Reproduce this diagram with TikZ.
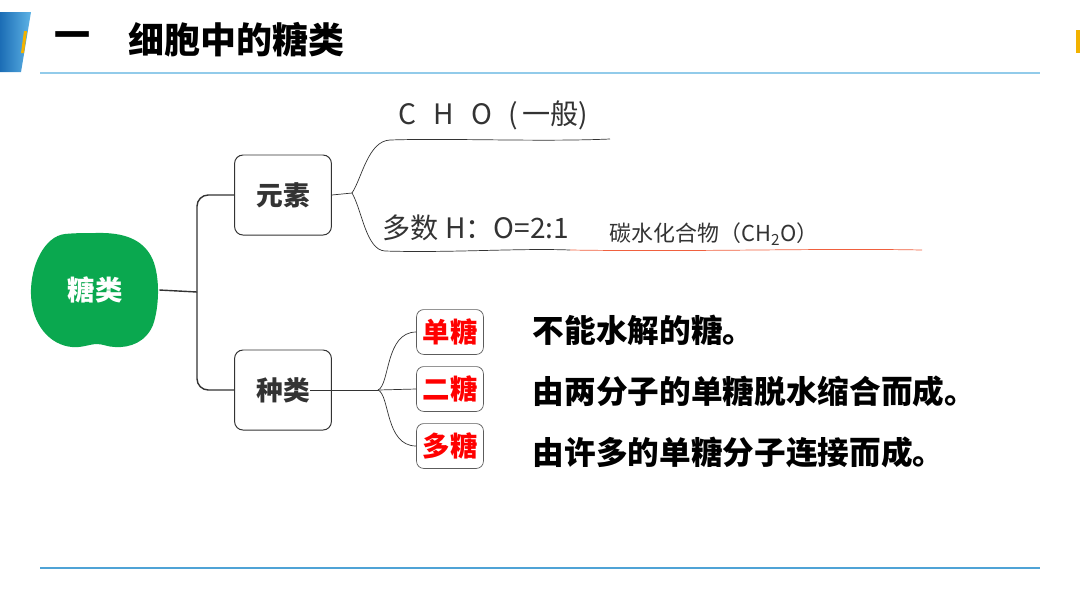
\documentclass[tikz,border=0pt]{standalone}
\usepackage{fontspec}
\setmainfont{Noto Sans CJK SC}
\usepackage{tikz}

\definecolor{leafgreen}{HTML}{0AA84F}
\definecolor{inkgray}{HTML}{333333}
\definecolor{rulelight}{HTML}{92CBEA}
\definecolor{ruleblue}{HTML}{4FA3D6}
\definecolor{tabdark}{HTML}{1C6DB5}
\definecolor{tablight}{HTML}{5DB3E6}
\definecolor{tabyellow}{HTML}{F2B200}
\definecolor{penred}{HTML}{F0603E}

\begin{document}
\begin{tikzpicture}[x=0.025cm,y=-0.025cm,
  part/.style={draw=inkgray, line width=0.7pt, rounded corners=6pt,
    minimum width=2.42cm, minimum height=2cm, text=inkgray,
    font=\fontsize{19}{20}\selectfont\bfseries},
  kind/.style={draw=inkgray!80, line width=0.5pt, rounded corners=5pt,
    minimum width=1.67cm, minimum height=1.12cm, text=red,
    font=\fontsize{19.5}{20}\selectfont\bfseries},
  desc/.style={anchor=west, font=\fontsize{22.5}{24}\selectfont\bfseries},
  note/.style={text=inkgray, font=\fontsize{20}{22}\selectfont},
  wire/.style={draw=inkgray, line width=0.5pt}
]
\useasboundingbox (0,0) rectangle (1080,608);

% header
\shade[left color=tabdark, right color=tablight] (0,12) -- (31,12) -- (21,72) -- (0,72) -- cycle;
\fill[tabyellow] (24,31) -- (27,31) -- (24,53) -- (21,53) -- cycle;
\fill[tabyellow] (1076,30) rectangle (1080,53);
\node[font=\fontsize{25.6}{28}\selectfont\bfseries] (num) at (72,40) {一};
\node[anchor=west, inner sep=0pt, font=\fontsize{25.6}{28}\selectfont\bfseries] (title) at (128,40) {细胞中的糖类};
\draw[rulelight, line width=1pt] (40,73) -- (1040,73);
\draw[ruleblue, line width=1pt] (40,568) -- (1040,568);

% root
\fill[leafgreen] (95,233) .. controls (125,232) and (142,240) .. (151,256)
  .. controls (160,272) and (160,305) .. (153,325)
  .. controls (146,342) and (130,348) .. (115,347)
  .. controls (108,347) and (103,344) .. (97,344)
  .. controls (90,344) and (82,348) .. (72,347)
  .. controls (50,345) and (32,325) .. (31,295)
  .. controls (30,265) and (45,236) .. (65,234)
  .. controls (75,233) and (85,233) .. (95,233) -- cycle;
\node[minimum width=3.2cm, minimum height=2.8cm, text=white,
  font=\fontsize{19.5}{20}\selectfont\bfseries] (sugar) at (95,290) {糖类};

\node[part] (yuansu) at (283,195) {元素};
\node[part] (zhonglei) at (283,390) {种类};

\coordinate (fork) at (197,292);
\draw[inkgray, line width=1pt] (sugar.east) -- (fork);
\draw[inkgray, line width=1pt, rounded corners=8pt] (fork) |- (yuansu.west);
\draw[inkgray, line width=1pt, rounded corners=8pt] (fork) |- (zhonglei.west);

% elements
\node[note, anchor=west] (cho) at (394,115) {C\hspace{0.6em}H\hspace{0.6em}O\hspace{0.6em}(\hspace{0.15em}一般)};
\node[note] (ratio) at (476,228) {多数 H：O=2:1};
\node[text=inkgray, font=\fontsize{15.6}{17}\selectfont] (carb) at (714,234) {碳水化合物（CH\textsubscript{2}O）};

\coordinate (efork) at (352,193);
\coordinate (chol) at (390,140);
\coordinate (chor) at (610,139);
\coordinate (ratiol) at (385,251);
\coordinate (ratior) at (570,250);
\coordinate (carbr) at (922,250);
\draw[wire] (yuansu.east) -- (efork);
\draw[wire] (efork) .. controls (362,178) and (368,141) .. (chol)
  .. controls (450,138) and (540,142) .. (chor);
\draw[wire] (efork) .. controls (362,210) and (366,250) .. (ratiol)
  .. controls (450,253) and (520,248) .. (ratior);
\draw[penred, line width=0.5pt] (ratior) .. controls (700,252) and (820,248) .. (carbr);

% kinds
\node[kind] (mono) at (450,332) {单糖};
\node[kind] (di) at (450,389) {二糖};
\node[kind] (poly) at (450,446) {多糖};

\coordinate (kfork) at (378,390);
\draw[wire] (310,390) -- (kfork);
\draw[wire] (kfork) .. controls (390,385) and (385,332) .. (mono.west);
\draw[wire] (kfork) -- (di.west);
\draw[wire] (kfork) .. controls (390,395) and (385,446) .. (poly.west);

\node[desc] (monotext) at (528,330) {不能水解的糖。};
\node[desc] (ditext) at (528,391) {由两分子的单糖脱水缩合而成。};
\node[desc] (polytext) at (528,452) {由许多的单糖分子连接而成。};
\end{tikzpicture}
\end{document}
